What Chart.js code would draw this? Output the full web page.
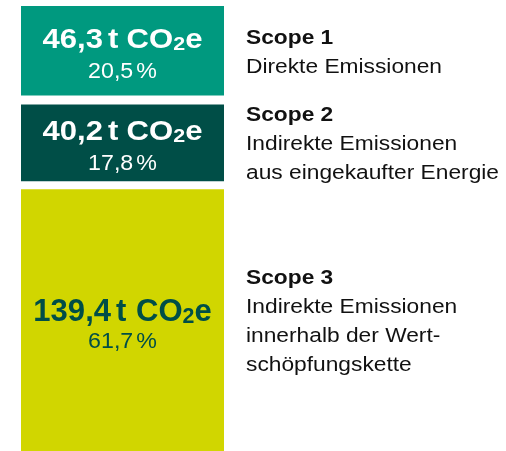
<!DOCTYPE html>
<html>
<head>
<meta charset="utf-8">
<script src="https://cdn.jsdelivr.net/npm/chart.js@4.4.1/dist/chart.umd.min.js"></script>
<style>
  html, body { margin: 0; padding: 0; background: #ffffff; }
  #wrap { width: 506px; height: 451px; position: relative; }
</style>
</head>
<body>
<div id="wrap"><canvas id="c"></canvas></div>
<script>
// ---------- data ----------
const categories = ['Treibhausgasemissionen'];
const scopeTitles = ['Scope 1', 'Scope 2', 'Scope 3'];
const scopeValues = [46.3, 40.2, 139.4];      // t CO2e
const scopeShares = [20.5, 17.8, 61.7];       // %
const scopeDescriptions = [
  ['Direkte Emissionen'],
  ['Indirekte Emissionen', 'aus eingekaufter Energie'],
  ['Indirekte Emissionen', 'innerhalb der Wert-', 'schöpfungskette']
];
const scopeColors = ['#00997f', '#004e47', '#d1d600'];
const valueTextColors = ['#ffffff', '#ffffff', '#004e47'];

// ---------- styles ----------
const FONT = '"Liberation Sans", Arial, Helvetica, sans-serif';
const segBorders = [
  { top: 0, bottom: 6, left: 0, right: 0 },
  { top: 3, bottom: 3, left: 0, right: 0 },
  { top: 5, bottom: 0, left: 0, right: 0 }
];
const bigStyle = [
  { size: 27.5, hx: 1.13, cap: 19.8 },
  { size: 27.5, hx: 1.13, cap: 19.8 },
  { size: 32, hx: 0.97, cap: 23 }
];
const smallStyle = { size: 21.5, hx: 1.08 };
const sideStyle = { size: 20.5, hx: 1.11, cap: 14.8, lineHeight: 29, x: 246, color: '#111111' };

const total = scopeValues.reduce((a, b) => a + b, 0);
const fmt = v => v.toFixed(1).replace('.', ',');

function drawRuns(ctx, runs, x0, baseline, center) {
  const widths = runs.map(r => {
    if (r.gap !== undefined) return r.gap;
    ctx.font = `${r.weight} ${r.size}px ${FONT}`;
    return ctx.measureText(r.t).width * r.hx;
  });
  const w = widths.reduce((a, b) => a + b, 0);
  let x = center ? x0 - w / 2 : x0;
  runs.forEach((r, i) => {
    if (r.gap === undefined) {
      ctx.save();
      ctx.font = `${r.weight} ${r.size}px ${FONT}`;
      ctx.translate(x, baseline + (r.dy || 0));
      ctx.scale(r.hx, 1);
      ctx.fillText(r.t, 0, 0);
      ctx.restore();
    }
    x += widths[i];
  });
}

const labelPlugin = {
  id: 'scopeLabels',
  afterDatasetsDraw(chart) {
    const ctx = chart.ctx;
    const area = chart.chartArea;
    ctx.save();
    ctx.textAlign = 'left';
    ctx.textBaseline = 'alphabetic';
    chart.data.datasets.forEach((ds, di) => {
      const i = ds.scopeIndex;
      const el = chart.getDatasetMeta(di).data[0];
      if (!el) return;
      const p = el.getProps(['x', 'y', 'base'], true);
      const b = segBorders[i];
      const top = Math.max(Math.min(p.y, p.base) + b.top, area.top);
      const bottom = Math.min(Math.max(p.y, p.base) - b.bottom, area.bottom);
      const cy = (top + bottom) / 2;

      // value label inside the bar
      const bs = bigStyle[i];
      const bigBase = cy - 22.5 + bs.cap;
      ctx.fillStyle = valueTextColors[i];
      const B = { weight: 'bold', size: bs.size, hx: bs.hx };
      const S = { weight: 'bold', size: Math.round(bs.size * 0.68), hx: bs.hx, dy: bs.size * 0.08 };
      drawRuns(ctx, [
        Object.assign({ t: fmt(scopeValues[i]) }, B),
        { gap: 5 },
        Object.assign({ t: 't' }, B),
        { gap: bs.size * 0.3 },
        Object.assign({ t: 'CO' }, B),
        Object.assign({ t: '2' }, S),
        Object.assign({ t: 'e' }, B)
      ], p.x, bigBase, true);
      const R = { weight: 'normal', size: smallStyle.size, hx: smallStyle.hx };
      drawRuns(ctx, [
        Object.assign({ t: fmt(scopeShares[i]) }, R),
        { gap: 3 },
        Object.assign({ t: '%' }, R)
      ], p.x, cy + 27.5, true);

      // description on the right
      const lines = scopeDescriptions[i];
      const n = lines.length + 1;
      const blockH = sideStyle.cap + (n - 1) * sideStyle.lineHeight;
      let yb = cy - blockH / 2 + sideStyle.cap;
      ctx.fillStyle = sideStyle.color;
      drawRuns(ctx, [{ t: scopeTitles[i], weight: 'bold', size: sideStyle.size, hx: sideStyle.hx }], sideStyle.x, yb, false);
      lines.forEach(line => {
        yb += sideStyle.lineHeight;
        drawRuns(ctx, [{ t: line, weight: 'normal', size: sideStyle.size, hx: sideStyle.hx }], sideStyle.x, yb, false);
      });
    });
    ctx.restore();
  }
};

// stacked: first dataset sits at the bottom -> build from Scope 3 upwards
const datasets = [2, 1, 0].map(i => ({
  label: scopeTitles[i],
  scopeIndex: i,
  data: [scopeValues[i]],
  backgroundColor: scopeColors[i],
  borderColor: '#ffffff',
  borderWidth: segBorders[i],
  borderSkipped: false,
  inflateAmount: 0,
  barPercentage: 1,
  categoryPercentage: 1
}));

new Chart(document.getElementById('c'), {
  type: 'bar',
  data: { labels: categories, datasets },
  options: {
    responsive: true,
    maintainAspectRatio: false,
    animation: false,
    layout: { padding: { left: 21, right: 282, top: 6, bottom: 0 } },
    plugins: { legend: { display: false }, tooltip: { enabled: false } },
    scales: {
      x: { stacked: true, display: false },
      y: { stacked: true, display: false, min: 10, max: total }
    }
  },
  plugins: [labelPlugin]
});
</script>
</body>
</html>
